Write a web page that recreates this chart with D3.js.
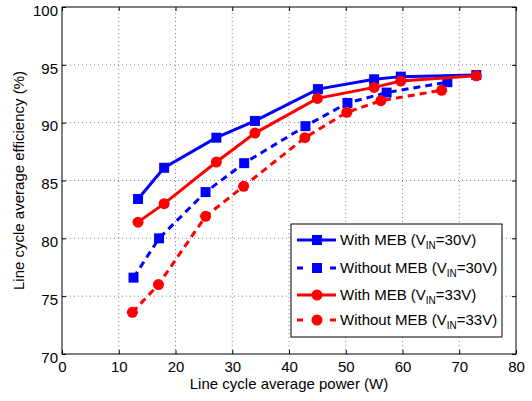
<!DOCTYPE html>
<html>
<head>
<meta charset="utf-8">
<script src="https://cdn.jsdelivr.net/npm/d3@7"></script>
<style>
  body { margin: 0; background: #fff; }
  text { font-family: "Liberation Sans", Arial, sans-serif; }
</style>
</head>
<body>
<svg id="chart" width="532" height="401"></svg>
<script>
var xTicks = [0, 10, 20, 30, 40, 50, 60, 70, 80]
var yTicks = [70, 75, 80, 85, 90, 95, 100]

var withMeb30x = [13.4, 18.0, 27.2, 34.0, 45.1, 55.0, 59.7, 73.0]
var withMeb30y = [83.4, 86.1, 88.7, 90.15, 92.9, 93.75, 93.98, 94.12]
var withoutMeb30x = [12.6, 17.1, 25.3, 32.1, 42.9, 50.3, 57.2, 67.9]
var withoutMeb30y = [76.6, 80.0, 84.0, 86.5, 89.7, 91.7, 92.6, 93.5]
var withMeb33x = [13.4, 18.0, 27.2, 34.0, 45.0, 55.0, 59.7, 73.0]
var withMeb33y = [81.4, 83.0, 86.6, 89.1, 92.1, 93.05, 93.6, 94.05]
var withoutMeb33x = [12.4, 17.0, 25.3, 32.0, 42.8, 50.2, 56.2, 66.9]
var withoutMeb33y = [73.6, 76.0, 81.9, 84.5, 88.7, 90.9, 91.9, 92.8]

var seriesNames = ['With MEB (V', 'Without MEB (V', 'With MEB (V', 'Without MEB (V']
var seriesVin = ['=30V)', '=30V)', '=33V)', '=33V)']

function zip(xs, ys) { return xs.map(function(x, i) { return [x, ys[i]] }) }

var series = [
  { pts: zip(withMeb30x, withMeb30y), color: '#0000ff', dash: null, marker: 'square' },
  { pts: zip(withoutMeb30x, withoutMeb30y), color: '#0000ff', dash: '7,5', marker: 'square' },
  { pts: zip(withMeb33x, withMeb33y), color: '#ff0000', dash: null, marker: 'circle' },
  { pts: zip(withoutMeb33x, withoutMeb33y), color: '#ff0000', dash: '7,5', marker: 'circle' }
]

var margin = { left: 62, top: 7, right: 16, bottom: 47 }
var W = 532, H = 401
var FS = 15
var svg = d3.select('#chart')

var x = d3.scaleLinear().domain([0, 80]).range([margin.left, W - margin.right])
var y = d3.scaleLinear().domain([70, 100]).range([H - margin.bottom, margin.top])

function marker(s) {
  return d3.symbol().type(s.marker == 'square' ? d3.symbolSquare : d3.symbolCircle)
    .size(s.marker == 'square' ? 100 : 95)
}

// grid
var grid = svg.append('g')
grid.selectAll('line.vx')
  .data(xTicks.slice(1, -1))
  .enter().append('line')
  .attr('x1', function(d) { return x(d) }).attr('x2', function(d) { return x(d) })
  .attr('y1', y(70)).attr('y2', y(100))
  .attr('stroke', '#888').attr('stroke-width', 1).attr('stroke-dasharray', '1,3')
grid.selectAll('line.hy')
  .data(yTicks.slice(1, -1))
  .enter().append('line')
  .attr('y1', function(d) { return y(d) }).attr('y2', function(d) { return y(d) })
  .attr('x1', x(0)).attr('x2', x(80))
  .attr('stroke', '#888').attr('stroke-width', 1).attr('stroke-dasharray', '1,3')

// axes (ticks inward, like the original)
var xAxis = d3.axisBottom(x).tickValues(xTicks).tickSize(-4).tickPadding(5)
var yAxis = d3.axisLeft(y).tickValues(yTicks).tickSize(-4).tickPadding(4)
var gx = svg.append('g').attr('transform', 'translate(0,' + y(70) + ')').call(xAxis)
var gy = svg.append('g').attr('transform', 'translate(' + x(0) + ',0)').call(yAxis)
var gx2 = svg.append('g').attr('transform', 'translate(0,' + y(100) + ')')
  .call(d3.axisTop(x).tickValues(xTicks).tickSize(-4).tickFormat(''))
var gy2 = svg.append('g').attr('transform', 'translate(' + x(80) + ',0)')
  .call(d3.axisRight(y).tickValues(yTicks).tickSize(-4).tickFormat(''))
;[gx, gy, gx2, gy2].forEach(function(g) {
  g.select('.domain').remove()
  g.selectAll('text').attr('font-size', FS).attr('fill', '#000')
    .style('font-family', '"Liberation Sans", Arial, sans-serif')
})
gx.selectAll('text').attr('dy', '0.85em')
// the labels sit a little under their ticks in the original
gy.selectAll('text').attr('dy', '0.55em')

// frame
svg.append('rect')
  .attr('x', x(0)).attr('y', y(100))
  .attr('width', x(80) - x(0)).attr('height', y(70) - y(100))
  .attr('fill', 'none').attr('stroke', '#000').attr('stroke-width', 1)

// lines
var line = d3.line().x(function(d) { return x(d[0]) }).y(function(d) { return y(d[1]) })
series.forEach(function(s) {
  svg.append('path').datum(s.pts)
    .attr('d', line)
    .attr('fill', 'none').attr('stroke', s.color).attr('stroke-width', 3)
    .attr('stroke-dasharray', s.dash)
  svg.selectAll(null).data(s.pts).enter().append('path')
    .attr('d', marker(s))
    .attr('transform', function(d) { return 'translate(' + x(d[0]) + ',' + y(d[1]) + ')' })
    .attr('fill', s.color)
})

// axis labels
svg.append('text')
  .attr('x', (x(0) + x(80)) / 2).attr('y', 389)
  .attr('text-anchor', 'middle').attr('font-size', FS)
  .text('Line cycle average power (W)')
svg.append('text')
  .attr('transform', 'translate(24,' + ((y(70) + y(100)) / 2) + ') rotate(-90)')
  .attr('text-anchor', 'middle').attr('font-size', FS)
  .text('Line cycle average efficiency (%)')

// legend
var lg = svg.append('g').attr('transform', 'translate(291,224)')
lg.append('rect').attr('width', 211).attr('height', 113)
  .attr('fill', '#fff').attr('stroke', '#000').attr('stroke-width', 1)
var rowY = [16, 44, 71, 96]
series.forEach(function(s, i) {
  var row = lg.append('g').attr('transform', 'translate(0,' + rowY[i] + ')')
  row.append('line').attr('x1', 6).attr('x2', 45)
    .attr('stroke', s.color).attr('stroke-width', 3)
    .attr('stroke-dasharray', s.dash ? '6,27,6' : null)
  row.append('path').attr('d', marker(s)).attr('transform', 'translate(26,0)').attr('fill', s.color)
  var t = row.append('text').attr('x', 49).attr('y', 5).attr('font-size', FS)
  t.append('tspan').text(seriesNames[i])
  t.append('tspan').attr('font-size', 10).attr('dy', 4).text('IN')
  t.append('tspan').attr('dy', -4).text(seriesVin[i])
})
</script>
</body>
</html>
